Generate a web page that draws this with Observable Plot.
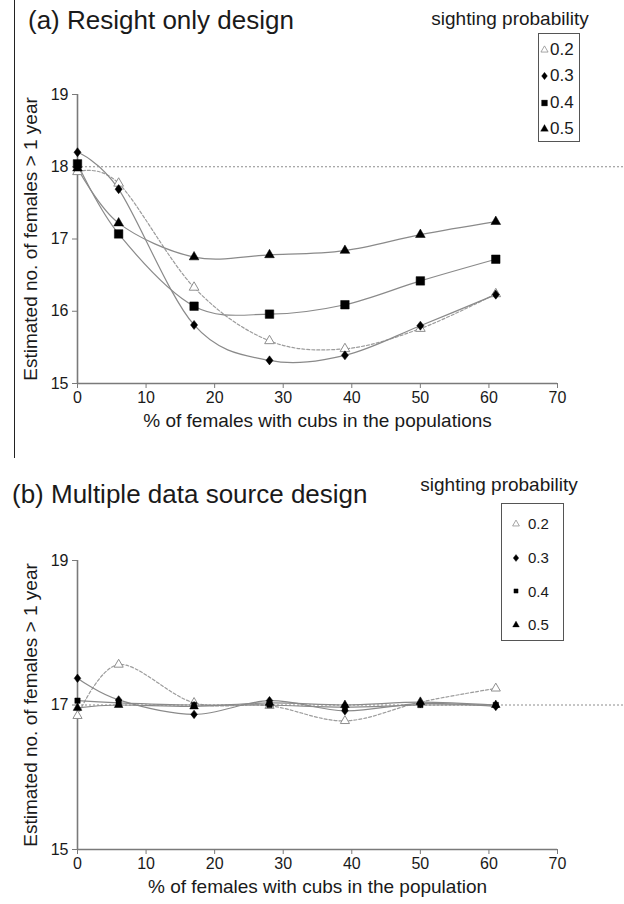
<!DOCTYPE html>
<html><head><meta charset="utf-8">
<script src="https://cdn.jsdelivr.net/npm/d3@7"></script>
<script src="https://cdn.jsdelivr.net/npm/@observablehq/plot@0.6"></script>
<style>
html,body{margin:0;padding:0;background:#fff;}
#page{position:relative;width:624px;height:904px;overflow:hidden;font-family:"Liberation Sans",Arial,sans-serif;color:#1a1a1a;}
.abs{position:absolute;white-space:nowrap;}
.title{font-size:26px;line-height:26px;}
.legtitle{font-size:19px;line-height:19px;transform:translateX(-50%);}
.legbox{position:absolute;border:1px solid #555;box-sizing:border-box;background:#fff;}
.legitem{display:flex;align-items:center;}
.legitem svg{display:block;}
#border{position:absolute;left:14px;top:0;width:0;height:458px;border-left:1.5px solid #222;}
</style></head>
<body><div id="page">
<div id="border"></div>
<div id="panelA" class="abs" style="left:0;top:0"></div>
<div id="panelB" class="abs" style="left:0;top:466px"></div>
</div>
<script>
// ---------- data ----------
const xPercent = [0, 6, 17, 28, 39, 50, 61];
const probs = ["0.2", "0.3", "0.4", "0.5"];
// (a) Resight only design
const resight02 = [17.93, 17.77, 16.33, 15.59, 15.48, 15.76, 16.24];
const resight03 = [18.20, 17.69, 15.81, 15.32, 15.39, 15.80, 16.23];
const resight04 = [18.04, 17.07, 16.07, 15.96, 16.09, 16.42, 16.72];
const resight05 = [17.98, 17.22, 16.75, 16.78, 16.84, 17.06, 17.24];
// (b) Multiple data source design
const multiple02 = [16.85, 17.56, 17.03, 16.99, 16.78, 17.04, 17.23];
const multiple03 = [17.37, 17.07, 16.87, 17.06, 16.92, 17.02, 16.98];
const multiple04 = [17.06, 17.03, 17.00, 17.00, 16.97, 17.00, 17.00];
const multiple05 = [16.96, 17.00, 16.98, 17.03, 17.00, 17.04, 17.00];
// reference (true) values
const refA = [18];
const refB = [17];
// ticks and texts
const xTicks = [0, 10, 20, 30, 40, 50, 60, 70];
const yTicksA = [15, 16, 17, 18, 19];
const yTicksB = [15, 17, 19];
const titleA = "(a) Resight only design";
const titleB = "(b) Multiple data source design";
const legendTitle = "sighting probability";
const yLabel = "Estimated no. of females > 1 year";
const xLabelA = "% of females with cubs in the populations";
const xLabelB = "% of females with cubs in the population";

// ---------- styles ----------
const FONT = '"Liberation Sans", Arial, sans-serif';
// rhombus a little narrower than tall
const rhombus = {
  draw(context, size) {
    const ratio = 0.78;
    const h = Math.sqrt(2 * size / ratio) / 2;
    const w = h * ratio;
    context.moveTo(0, -h);
    context.lineTo(w, 0);
    context.lineTo(0, h);
    context.lineTo(-w, 0);
    context.closePath();
  }
};
const seriesStyle = {
  "0.2": {symbol: d3.symbolTriangle, fill: "#fff", stroke: "#8f8f8f", line: "#9c9c9c", dash: "3,2"},
  "0.3": {symbol: rhombus, fill: "#000", stroke: "#000", line: "#8a8a8a", dash: null},
  "0.4": {symbol: d3.symbolSquare, fill: "#000", stroke: "#000", line: "#8a8a8a", dash: null},
  "0.5": {symbol: d3.symbolTriangle, fill: "#000", stroke: "#000", line: "#8a8a8a", dash: null}
};

function panel(series, yTicks, ref, xLabel, height, radii) {
  const rows = [];
  series.forEach((vals, i) => vals.forEach((v, j) => rows.push({p: probs[i], x: xPercent[j], y: v})));
  const xDom = [xTicks[0], xTicks[xTicks.length - 1]];
  const yDom = [yTicks[0], yTicks[yTicks.length - 1]];
  const marks = [
    Plot.ruleY(ref, {stroke: "#8c8c8c", strokeWidth: 1, strokeDasharray: "2,2"}),
    Plot.ruleX([xDom[0]], {y1: yDom[0], y2: yDom[1], stroke: "#7a7a7a", strokeWidth: 1.6}),
    Plot.ruleY([yDom[0]], {x1: xDom[0], x2: xDom[1], stroke: "#7a7a7a", strokeWidth: 1.6}),
    Plot.axisX({ticks: xTicks, tickSize: 5, tickPadding: 3, stroke: "#7a7a7a", fill: "#1a1a1a", fontSize: 16, label: null, tickFormat: d => String(d)}),
    Plot.axisY({ticks: yTicks, tickSize: 5, tickPadding: 4, stroke: "#7a7a7a", fill: "#1a1a1a", fontSize: 16, label: null, tickFormat: d => String(d)}),
    Plot.text([yLabel], {frameAnchor: "left", textAnchor: "middle", rotate: -90, dx: -47, fontSize: 19, fill: "#1a1a1a"}),
    Plot.text([xLabel], {frameAnchor: "bottom-left", textAnchor: "middle", dx: 240, dy: 43, fontSize: 19, fill: "#1a1a1a"})
  ];
  probs.forEach(p => {
    const st = seriesStyle[p];
    const opts = {x: "x", y: "y", curve: "cardinal", stroke: st.line, strokeWidth: 1.2};
    if (st.dash) opts.strokeDasharray = st.dash;
    marks.push(Plot.line(rows.filter(r => r.p === p), opts));
  });
  probs.forEach(p => {
    const st = seriesStyle[p];
    marks.push(Plot.dot(rows.filter(r => r.p === p), {
      x: "x", y: "y", symbol: st.symbol, r: radii[p], fill: st.fill, stroke: st.stroke, strokeWidth: p === "0.2" ? 1 : 0.5
    }));
  });
  return Plot.plot({
    width: 624, height,
    marginLeft: 77, marginRight: 0, marginTop: 94, marginBottom: height - 383,
    x: {domain: xDom, range: [77, 557]},
    y: {domain: yDom},
    style: {fontFamily: FONT, background: "transparent", overflow: "visible", color: "#1a1a1a"},
    marks
  });
}

function addLegend(page, cfg) {
  const t = document.createElement("div");
  t.className = "abs legtitle";
  t.style.left = cfg.titleX + "px";
  t.style.top = cfg.titleTop + "px";
  t.textContent = legendTitle;
  page.appendChild(t);
  const box = document.createElement("div");
  box.className = "legbox";
  Object.assign(box.style, {left: cfg.left + "px", top: cfg.top + "px", width: cfg.w + "px", height: cfg.h + "px", paddingTop: cfg.pad + "px"});
  probs.forEach(p => {
    const st = seriesStyle[p];
    const it = document.createElement("div");
    it.className = "legitem";
    it.style.height = cfg.step + "px";
    it.style.fontSize = cfg.fs + "px";
    const s = d3.create("svg").attr("width", cfg.mw).attr("height", 12);
    s.append("path")
      .attr("transform", `translate(${cfg.mx},6)`)
      .attr("d", d3.symbol(st.symbol, cfg.msize[p])())
      .attr("fill", st.fill).attr("stroke", st.stroke).attr("stroke-width", p === "0.2" ? 0.8 : 0.3);
    it.appendChild(s.node());
    const tx = document.createElement("span");
    tx.textContent = p;
    tx.style.marginLeft = cfg.gap + "px";
    it.appendChild(tx);
    box.appendChild(it);
  });
  page.appendChild(box);
}

const page = document.getElementById("page");

document.getElementById("panelA").appendChild(
  panel([resight02, resight03, resight04, resight05], yTicksA, refA, xLabelA, 455,
        {"0.2": 3.6, "0.3": 3.2, "0.4": 4.8, "0.5": 3.6}));
document.getElementById("panelB").appendChild(
  panel([multiple02, multiple03, multiple04, multiple05], yTicksB, refB, xLabelB, 438,
        {"0.2": 3.4, "0.3": 3.0, "0.4": 3.0, "0.5": 3.2}));

function addTitle(text, left, top) {
  const d = document.createElement("div");
  d.className = "abs title";
  d.style.left = left + "px";
  d.style.top = top + "px";
  d.textContent = text;
  page.appendChild(d);
}
addTitle(titleA, 28, 7);
addTitle(titleB, 12, 481);

addLegend(page, {titleX: 510, titleTop: 9, left: 538, top: 33, w: 42, h: 109, pad: 3, step: 26.3, fs: 17,
  mw: 11, mx: 5.5, gap: 0, msize: {"0.2": 22, "0.3": 22, "0.4": 34, "0.5": 26}});
addLegend(page, {titleX: 499, titleTop: 475, left: 501, top: 503, w: 63, h: 138, pad: 3, step: 33.7, fs: 15,
  mw: 22, mx: 14, gap: 4, msize: {"0.2": 20, "0.3": 20, "0.4": 18, "0.5": 20}});
</script>
</body></html>
